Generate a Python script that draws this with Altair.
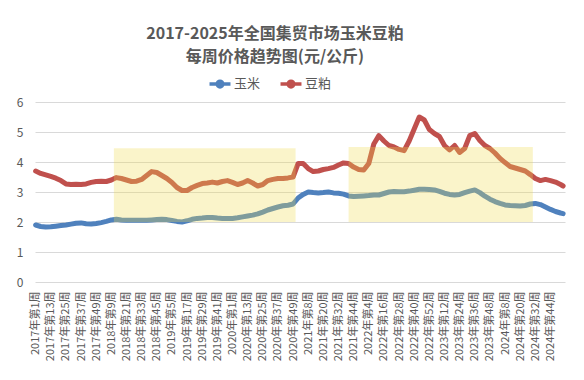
import altair as alt
import pandas as pd

# ---- category labels (weeks) ----
years = [2017, 2018, 2019, 2020, 2021, 2022, 2023, 2024, 2025]
weeks_in_year = [52, 52, 52, 53, 52, 52, 52, 52, 3]
week_labels = [f"{y}年第{w}周" for y, n in zip(years, weeks_in_year) for w in range(1, n + 1)]
tick_idx = list(range(0, 409, 12))

sample_idx = list(range(0, 417, 4)) + [418]

corn = [1.90, 1.85, 1.83, 1.84, 1.86, 1.88, 1.90, 1.93, 1.96, 1.97,
        1.94, 1.93, 1.95, 1.98, 2.02, 2.07, 2.09, 2.07, 2.06, 2.06,
        2.06, 2.06, 2.06, 2.07, 2.08, 2.09, 2.08, 2.05, 2.02, 2.00,
        2.04, 2.09, 2.12, 2.13, 2.15, 2.15, 2.13, 2.12, 2.12, 2.12,
        2.14, 2.17, 2.20, 2.23, 2.27, 2.33, 2.40, 2.45, 2.50, 2.54,
        2.56, 2.60, 2.80, 2.92, 3.00, 2.98, 2.97, 2.98, 3.00, 2.97,
        2.96, 2.93, 2.87, 2.85, 2.86, 2.87, 2.88, 2.90, 2.90, 2.95,
        3.00, 3.02, 3.01, 3.01, 3.03, 3.06, 3.09, 3.09, 3.08, 3.07,
        3.02, 2.96, 2.92, 2.90, 2.92, 2.98, 3.03, 3.07, 2.98, 2.86,
        2.76, 2.68, 2.62, 2.57, 2.55, 2.54, 2.53, 2.55, 2.60, 2.62,
        2.58, 2.50, 2.42, 2.35, 2.30, 2.28]

meal = [3.70, 3.62, 3.57, 3.52, 3.46, 3.38, 3.27, 3.25, 3.26, 3.25,
        3.27, 3.32, 3.35, 3.36, 3.35, 3.40, 3.48, 3.45, 3.40, 3.35,
        3.36, 3.42, 3.55, 3.68, 3.65, 3.55, 3.45, 3.32, 3.15, 3.05,
        3.05, 3.15, 3.22, 3.28, 3.30, 3.33, 3.30, 3.35, 3.38, 3.32,
        3.25, 3.30, 3.38, 3.30, 3.20, 3.25, 3.38, 3.42, 3.45, 3.45,
        3.47, 3.50, 3.95, 3.95, 3.78, 3.68, 3.70, 3.75, 3.78, 3.82,
        3.90, 3.97, 3.95, 3.83, 3.75, 3.73, 3.95, 4.60, 4.88, 4.70,
        4.55, 4.50, 4.42, 4.38, 4.70, 5.10, 5.50, 5.40, 5.08, 4.95,
        4.85, 4.55, 4.40, 4.55, 4.32, 4.45, 4.88, 4.95, 4.72, 4.55,
        4.45, 4.30, 4.12, 3.98, 3.85, 3.80, 3.75, 3.70, 3.58, 3.45,
        3.38, 3.42, 3.38, 3.33, 3.25, 3.20]

series_names = ["玉米", "豆粕"]
series_colors = ["#4F81BD", "#C0504D"]

# watermark highlight boxes (in data coordinates)
box_x = [62, 248]
box_x2 = [206, 394]
box_y = [2.0, 2.0]
box_y2 = [4.46, 4.5]

rows = []
for name, vals in zip(series_names, [corn, meal]):
    for i, v in zip(sample_idx, vals):
        rows.append({"idx": i, "val": v, "series": name})
df = pd.DataFrame(rows)
boxes = pd.DataFrame({"idx": box_x, "x2": box_x2, "val": box_y, "y2": box_y2})

label_array = "[" + ",".join(f"'{s}'" for s in week_labels) + "]"

font = "Noto Sans CJK SC"
grey = "#595959"

x_scale = alt.Scale(domain=[-0.5, len(week_labels) - 0.5], nice=False, zero=False)
y_scale = alt.Scale(domain=[0, 6], nice=False)

x_axis = alt.Axis(values=tick_idx, labelExpr=f"{label_array}[datum.value]",
                  labelAngle=270, labelFontSize=11, labelColor=grey, labelFont=font,
                  grid=False, ticks=False, domain=False, labelPadding=9,
                  labelOverlap=False, labelFlush=False, labelBound=False)
y_axis = alt.Axis(values=[0, 1, 2, 3, 4, 5, 6], labelFontSize=12, labelColor=grey,
                  labelFont=font, grid=True, gridColor="#D9D9D9", ticks=False,
                  domain=False, labelPadding=12, minExtent=22, labelOverlap=False)

legend_symbol = "M-1.3,0H1.3M0.35,0A0.35,0.35,0,1,1,-0.35,0A0.35,0.35,0,1,1,0.35,0Z"

lines = alt.Chart(df).mark_line(strokeWidth=5, strokeJoin="round", strokeCap="round").encode(
    x=alt.X("idx:Q", scale=x_scale, title=None, axis=x_axis),
    y=alt.Y("val:Q", scale=y_scale, title=None, axis=y_axis),
    color=alt.Color("series:N", scale=alt.Scale(domain=series_names, range=series_colors),
                    sort=series_names,
                    legend=alt.Legend(title=None, orient="none", direction="horizontal",
                                      legendX=175, legendY=-28, labelFontSize=13,
                                      labelColor=grey, labelFont=font, symbolType=legend_symbol,
                                      symbolSize=260, symbolStrokeWidth=3.5, columnPadding=12,
                                      labelOffset=4)),
    detail="series:N",
)

rects = alt.Chart(boxes).mark_rect(color="#F0DC50", opacity=0.3).encode(
    x=alt.X("idx:Q", scale=x_scale, title=None, axis=x_axis),
    x2="x2:Q",
    y=alt.Y("val:Q", scale=y_scale, title=None, axis=y_axis),
    y2="y2:Q",
)

chart = alt.layer(lines, rects).properties(
    width=530,
    height=180,
    padding={"left": 5, "top": 18, "right": 5, "bottom": 5},
    title=alt.TitleParams(
        text=["2017-2025年全国集贸市场玉米豆粕", "每周价格趋势图(元/公斤)"],
        fontSize=16, fontWeight="bold", color=grey, font=font,
        anchor="middle", lineHeight=23, offset=9, dx=-25,
    ),
).configure_view(stroke=None)

chart.save("out.html", embed_options={"renderer": "svg", "actions": False})
